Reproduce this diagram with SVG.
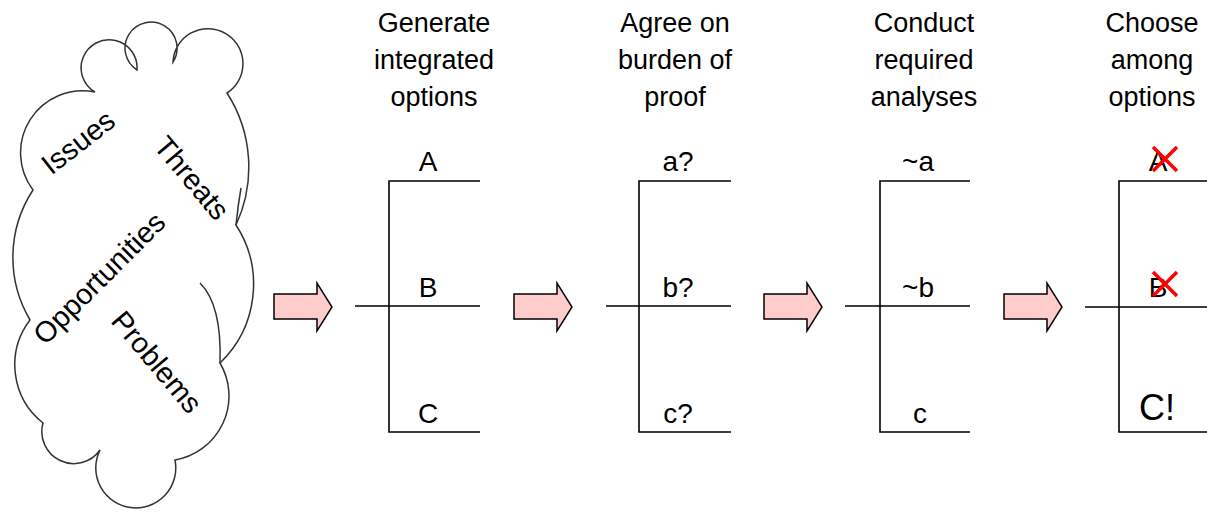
<svg xmlns="http://www.w3.org/2000/svg" width="1207" height="512" viewBox="0 0 1207 512">
<style>
text{font-family:"Liberation Sans",Arial,sans-serif;fill:#000}
.h{font-size:27px;text-anchor:middle}
.l{font-size:28px;text-anchor:middle}
.c{font-size:29px;text-anchor:middle}
.ln{stroke:#000;stroke-width:1.6;fill:none}
.cl{stroke:#333;stroke-width:1.5;fill:none}
.ar{fill:#FFCCCC;stroke:#000;stroke-width:1.5;stroke-linejoin:miter}
.x{stroke:#FF0000;stroke-width:3.5;stroke-linecap:butt}
</style>
<defs>
<path id="arrow" d="M0,0 H43 V-11 L58,13 L43,37 V25 H0 Z"/>
</defs>
<g id="cloud">
<path class="cl" d="M33,190 A62,62 0 0 1 95,92 A28,28 0 1 1 137,70 A26,26 0 1 1 173,62 A35,35 0 1 1 227,93 A137,137 0 0 1 236,225 A109,109 0 0 1 220,363 A65,65 0 0 1 175,460 A40,40 0 1 1 100,450 A32,32 0 0 1 43,423 A74,74 0 0 1 30,320 A123,123 0 0 1 33,190 Z"/>
<path class="cl" d="M200,283 Q222,305 220,363"/>
<path class="cl" d="M236,225 Q238,205 241,188"/>
<text class="c" transform="translate(78,142) rotate(-38)" dy="0.35em">Issues</text>
<text class="c" transform="translate(192,178) rotate(50)" dy="0.35em">Threats</text>
<text class="c" transform="translate(99,278) rotate(-45)" dy="0.35em">Opportunities</text>
<text class="c" transform="translate(157,362) rotate(50)" dy="0.35em">Problems</text>
</g>
<g id="arrows">
<use href="#arrow" class="ar" transform="translate(274,294)"/>
<use href="#arrow" class="ar" transform="translate(514,294)"/>
<use href="#arrow" class="ar" transform="translate(764,294)"/>
<use href="#arrow" class="ar" transform="translate(1004,294)"/>
</g>
<g id="col1">
<text class="h" x="434" y="32">Generate</text>
<text class="h" x="434" y="69">integrated</text>
<text class="h" x="434" y="106">options</text>
<path class="ln" d="M480,181 H389 V432 H480 M355,306 H480"/>
<text class="l" x="428" y="171">A</text>
<text class="l" x="428" y="297">B</text>
<text class="l" x="428" y="423">C</text>
</g>
<g id="col2">
<text class="h" x="675" y="32">Agree on</text>
<text class="h" x="675" y="69">burden of</text>
<text class="h" x="675" y="106">proof</text>
<path class="ln" d="M731,181 H639 V432 H731 M606,306 H731"/>
<text class="l" x="678" y="171">a?</text>
<text class="l" x="678" y="297">b?</text>
<text class="l" x="678" y="423">c?</text>
</g>
<g id="col3">
<text class="h" x="924" y="32">Conduct</text>
<text class="h" x="924" y="69">required</text>
<text class="h" x="924" y="106">analyses</text>
<path class="ln" d="M970,181 H880 V432 H970 M845,306 H970"/>
<text class="l" x="918" y="171">~a</text>
<text class="l" x="918" y="297">~b</text>
<text class="l" x="920" y="423">c</text>
</g>
<g id="col4">
<text class="h" x="1152" y="32">Choose</text>
<text class="h" x="1152" y="69">among</text>
<text class="h" x="1152" y="106">options</text>
<path class="ln" d="M1207,181 H1119 V432 H1207 M1085,307 H1207"/>
<text class="l" x="1158" y="171">A</text>
<text class="l" x="1158" y="297">B</text>
<text class="l" x="1157" y="420" style="font-size:36px">C!</text>
<path class="x" d="M1153,147 L1177,171 M1177,147 L1153,171"/>
<path class="x" d="M1153,272 L1177,296 M1177,272 L1153,296"/>
</g>
</svg>
